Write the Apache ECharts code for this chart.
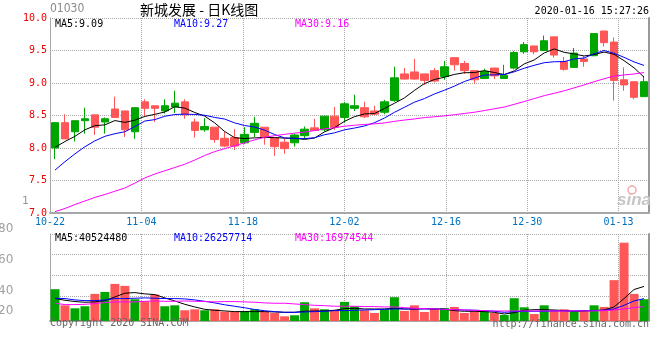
<!DOCTYPE html>
<html><head><meta charset="utf-8">
<script src="https://cdn.jsdelivr.net/npm/echarts@6/dist/echarts.min.js"></script>
<style>html,body{margin:0;padding:0;background:#fff}#c{width:660px;height:360px}</style>
</head><body><div id="c"></div>
<script>
const dates = ['2019-10-22','2019-10-23','2019-10-24','2019-10-25','2019-10-28','2019-10-29','2019-10-30','2019-10-31','2019-11-01','2019-11-04','2019-11-05','2019-11-06','2019-11-07','2019-11-08','2019-11-11','2019-11-12','2019-11-13','2019-11-14','2019-11-15','2019-11-18','2019-11-19','2019-11-20','2019-11-21','2019-11-22','2019-11-25','2019-11-26','2019-11-27','2019-11-28','2019-11-29','2019-12-02','2019-12-03','2019-12-04','2019-12-05','2019-12-06','2019-12-09','2019-12-10','2019-12-11','2019-12-12','2019-12-13','2019-12-16','2019-12-17','2019-12-18','2019-12-19','2019-12-20','2019-12-23','2019-12-24','2019-12-27','2019-12-30','2019-12-31','2020-01-02','2020-01-03','2020-01-06','2020-01-07','2020-01-08','2020-01-09','2020-01-10','2020-01-13','2020-01-14','2020-01-15','2020-01-16'];
const opens  = [8.00,8.39,8.25,8.42,8.51,8.40,8.60,8.57,8.25,8.71,8.65,8.57,8.63,8.71,8.40,8.28,8.32,8.15,8.16,8.08,8.24,8.32,8.16,8.09,8.08,8.19,8.31,8.28,8.49,8.47,8.61,8.62,8.57,8.55,8.73,9.14,9.17,9.14,9.19,9.10,9.39,9.30,9.19,9.07,9.23,9.07,9.23,9.48,9.57,9.50,9.71,9.33,9.24,9.37,9.42,9.80,9.63,9.05,9.02,8.79];
const closes = [8.39,8.14,8.42,8.45,8.32,8.45,8.47,8.28,8.62,8.61,8.61,8.65,8.69,8.51,8.27,8.33,8.13,8.03,8.03,8.21,8.38,8.16,8.02,7.99,8.20,8.29,8.27,8.49,8.32,8.68,8.65,8.48,8.52,8.71,9.08,9.06,9.06,9.04,9.03,9.25,9.28,9.19,9.05,9.18,9.11,9.12,9.47,9.59,9.48,9.65,9.43,9.21,9.46,9.33,9.76,9.62,9.04,8.97,8.78,9.02];
const lows   = [7.83,8.14,8.10,8.22,8.20,8.22,8.46,8.17,8.14,8.48,8.40,8.53,8.54,8.45,8.16,8.25,8.08,8.01,7.97,8.06,8.17,8.05,7.88,7.91,8.02,8.14,8.27,8.25,8.28,8.39,8.57,8.46,8.50,8.52,8.71,9.06,9.05,8.97,9.01,9.05,9.19,9.14,8.99,9.06,9.06,9.07,9.21,9.45,9.44,9.49,9.39,9.19,9.24,9.25,9.41,9.56,8.73,8.88,8.75,8.79];
const highs  = [8.40,8.52,8.42,8.62,8.51,8.47,8.79,8.57,8.62,8.75,8.65,8.75,8.88,8.75,8.45,8.46,8.32,8.25,8.29,8.32,8.48,8.32,8.16,8.15,8.22,8.33,8.45,8.49,8.63,8.71,8.82,8.71,8.65,8.74,9.25,9.23,9.37,9.14,9.23,9.34,9.39,9.34,9.19,9.22,9.23,9.28,9.49,9.63,9.57,9.73,9.71,9.40,9.54,9.41,9.76,9.80,9.70,9.24,9.02,9.11];
const ma5  = [8.01,8.10,8.18,8.28,8.344,8.356,8.422,8.394,8.428,8.486,8.518,8.554,8.636,8.614,8.546,8.49,8.386,8.254,8.158,8.146,8.156,8.162,8.16,8.152,8.15,8.132,8.154,8.248,8.314,8.41,8.482,8.524,8.53,8.608,8.688,8.77,8.886,8.99,9.054,9.088,9.132,9.158,9.16,9.19,9.162,9.13,9.186,9.294,9.354,9.462,9.524,9.472,9.446,9.416,9.438,9.476,9.442,9.344,9.234,9.09];
const ma10 = [7.66,7.79,7.91,8.02,8.11,8.18,8.22,8.25,8.33,8.415,8.437,8.488,8.515,8.521,8.516,8.504,8.47,8.445,8.386,8.346,8.323,8.274,8.207,8.155,8.148,8.144,8.158,8.204,8.233,8.28,8.307,8.339,8.389,8.461,8.549,8.626,8.705,8.76,8.831,8.888,8.951,9.022,9.075,9.122,9.125,9.131,9.172,9.227,9.272,9.312,9.327,9.329,9.37,9.385,9.45,9.50,9.457,9.395,9.325,9.27];
const ma30 = [7.02,7.07,7.13,7.185,7.24,7.285,7.335,7.385,7.46,7.54,7.60,7.65,7.70,7.75,7.815,7.885,7.945,7.99,8.035,8.08,8.125,8.165,8.19,8.21,8.228,8.245,8.268,8.296,8.312,8.335,8.35,8.362,8.372,8.386,8.41,8.43,8.447,8.468,8.48,8.495,8.512,8.531,8.55,8.576,8.603,8.63,8.672,8.715,8.76,8.805,8.842,8.88,8.925,8.97,9.02,9.065,9.105,9.124,9.139,9.16];
// volumes in millions of shares
const volumes = [37.3,18.4,14.9,17.3,31.8,34.1,43.5,41.2,25.5,23.1,31.0,17.3,18.4,12.6,13.7,12.6,13.7,11.0,11.0,11.4,13.7,11.4,9.4,5.5,6.7,22.0,14.9,13.7,12.6,22.4,17.3,12.6,9.4,13.7,27.9,11.8,18.4,10.6,14.5,15.3,16.5,9.4,11.4,11.8,9.4,7.1,26.7,16.1,8.2,18.4,12.6,13.7,11.4,12.6,18.4,16.5,47.9,91.8,31.8,25.5];
const volMa5  = [26.3,24.3,22.8,22.0,22.4,23.9,28.2,32.6,33.3,31.8,31.0,27.1,23.5,19.6,16.5,13.7,12.6,11.8,11.0,11.0,11.0,11.0,10.6,10.2,10.2,11.4,11.8,11.8,12.6,14.5,14.9,14.1,14.1,14.1,14.9,14.1,14.1,14.5,14.1,13.7,12.2,11.4,11.4,11.0,10.2,8.2,9.8,12.6,13.3,13.3,12.9,12.2,11.4,11.8,12.2,12.9,16.5,26.3,36.9,40.52448];
const volMa10 = [26.7,26.3,24.7,23.9,23.9,24.7,26.3,26.3,26.7,27.1,26.7,26.3,26.3,25.9,24.7,23.1,21.2,19.0,17.3,15.5,13.5,12.0,11.0,10.2,10.2,10.6,11.0,11.4,12.2,12.2,12.6,12.9,13.3,13.7,14.1,14.1,14.1,14.1,14.1,13.7,13.3,12.9,12.6,12.2,11.4,10.2,11.0,11.4,11.4,11.4,11.8,11.8,11.8,12.2,12.2,12.6,14.1,18.4,23.5,26.257714];
const volMa30 = [20.8,19.2,19.2,19.6,20.4,21.6,22.4,22.4,22.4,23.1,23.5,23.1,23.1,23.5,23.1,22.8,22.4,22.8,22.8,22.4,22.0,21.2,20.8,20.8,20.0,19.2,18.4,18.0,17.3,17.3,17.3,16.9,16.9,16.5,16.5,15.7,14.9,14.5,14.1,13.7,13.3,12.9,12.6,12.2,11.8,11.8,11.8,11.8,11.8,11.8,11.8,11.8,11.8,11.8,11.8,12.2,12.9,14.1,15.7,16.974544];
const labelIndexes = [0,9,19,29,39,47,56];
const volTickLabels = ['80','60','40','20'];
const stockCode = '01030';
const titleText = '新城发展 - 日K线图';
const stampText = '2020-01-16 15:27:26';

const mono = "'DejaVu Sans Mono','Liberation Mono',monospace";
const UP = '#00a600', DOWN = '#ff5757';
const GRID = '#a8a8a8';
const showIdx = new Set(labelIndexes);
const last = a => a[a.length - 1];
const dotted = {show: true, lineStyle: {color: GRID, type: 'dotted', width: 1}};

function txt(text, x, y, fill, font, align) {
  return {type: 'text', x: x, y: y, silent: true, z: 100,
    style: {text: text, fill: fill, font: font, align: align || 'left', verticalAlign: 'middle',
            textAlign: align || 'left', textVerticalAlign: 'middle'}};
}

const graphics = [
  txt(stockCode, 50, 9, '#8a8a8a', "12px 'DejaVu Sans Condensed','Liberation Sans Narrow',sans-serif"),
  txt(titleText, 140, 10, '#000', "14px 'Noto Sans CJK SC',sans-serif"),
  txt(stampText, 649, 11, '#000', '10px ' + mono, 'right'),
  txt('MA5:' + last(ma5).toFixed(2), 55, 24, '#000', '10px ' + mono),
  txt('MA10:' + last(ma10).toFixed(2), 174, 24, '#0000ff', '10px ' + mono),
  txt('MA30:' + last(ma30).toFixed(2), 295, 24, '#ff00ff', '10px ' + mono),
  txt('MA5:' + Math.round(last(volMa5) * 1e6), 55, 238, '#000', '10px ' + mono),
  txt('MA10:' + Math.round(last(volMa10) * 1e6), 174, 238, '#0000ff', '10px ' + mono),
  txt('MA30:' + Math.round(last(volMa30) * 1e6), 295, 238, '#ff00ff', '10px ' + mono),
  txt('Copyright 2020 SINA.COM', 50, 323, '#666', '10px ' + mono),
  txt('http://finance.sina.com.cn', 649, 324, '#666', '10px ' + mono, 'right'),
  txt('1', 22, 201, '#999', "11px 'DejaVu Sans',sans-serif"),
  txt('sina', 617, 200, '#c6c6c6', "italic bold 17px 'Liberation Sans',sans-serif"),
  {type: 'circle', shape: {cx: 632, cy: 190, r: 4}, silent: true, z: 100,
   style: {fill: 'none', stroke: '#f2a8a8', lineWidth: 1.5}}
];
const volLabelY = [229, 260, 291, 311];
volTickLabels.forEach((t, k) => graphics.push(txt(t, -2, volLabelY[k], '#a0a0a0', "12px 'DejaVu Sans',sans-serif")));

const line = (data, color, xi, yi) => ({type: 'line', xAxisIndex: xi, yAxisIndex: yi, data: data,
  symbol: 'none', showSymbol: false, smooth: false, z: 5, lineStyle: {color: color, width: 1}});

const option = {
  animation: false,
  backgroundColor: '#fff',
  grid: [
    {left: 50, right: 11, top: 18, height: 195},
    {left: 50, right: 11, top: 234, height: 87},
    {left: 50, right: 11, top: 234, height: 62}
  ],
  xAxis: [
    {type: 'category', gridIndex: 0, data: dates, boundaryGap: true, show: false},
    {type: 'category', gridIndex: 0, data: dates, boundaryGap: false, position: 'bottom',
     axisLine: {lineStyle: {color: '#a8a8a8', width: 2}}, axisTick: {show: false},
     axisLabel: {interval: (i) => showIdx.has(i), formatter: v => v.slice(5), color: '#0070c0',
                 fontFamily: mono, fontSize: 10, margin: 4, hideOverlap: false},
     splitLine: {show: true, interval: (i) => showIdx.has(i), lineStyle: {color: GRID, type: 'dotted', width: 1}}},
    {type: 'category', gridIndex: 1, data: dates, boundaryGap: true, show: false},
    {type: 'category', gridIndex: 1, data: dates, boundaryGap: false, position: 'top',
     axisLine: {lineStyle: {color: '#a8a8a8', width: 2}}, axisTick: {show: false}, axisLabel: {show: false},
     splitLine: {show: true, interval: (i) => showIdx.has(i), lineStyle: {color: GRID, type: 'dotted', width: 1}}},
    {type: 'category', gridIndex: 2, data: dates, show: false}
  ],
  yAxis: [
    {type: 'value', gridIndex: 0, min: 7, max: 10, interval: 0.5,
     axisLine: {show: true, lineStyle: {color: '#a8a8a8'}}, axisTick: {show: false},
     axisLabel: {color: '#ee0000', fontFamily: mono, fontSize: 10, margin: 3, formatter: v => v.toFixed(1)},
     splitLine: dotted},
    {type: 'value', gridIndex: 0, position: 'right', min: 7, max: 10, interval: 0.5,
     axisLine: {show: true, lineStyle: {color: '#999', width: 2}}, axisTick: {show: false},
     axisLabel: {show: false}, splitLine: {show: false}},
    {type: 'value', gridIndex: 1, min: 0, max: 102,
     axisLine: {show: true, lineStyle: {color: '#a8a8a8'}}, axisTick: {show: false},
     axisLabel: {show: false}, splitLine: {show: false}},
    {type: 'value', gridIndex: 1, position: 'right', min: 0, max: 102,
     axisLine: {show: true, lineStyle: {color: '#999', width: 2}}, axisTick: {show: false},
     axisLabel: {show: false}, splitLine: {show: false}},
    {type: 'value', gridIndex: 2, min: 0, max: 3, interval: 1,
     axisLine: {show: false}, axisTick: {show: false}, axisLabel: {show: false}, splitLine: dotted}
  ],
  series: [
    {type: 'candlestick', xAxisIndex: 0, yAxisIndex: 0, barWidth: 8, z: 3,
     data: dates.map((d, i) => [opens[i], closes[i], lows[i], highs[i]]),
     itemStyle: {color: UP, color0: DOWN, borderColor: UP, borderColor0: DOWN, borderWidth: 1}},
    line(ma5, '#000000', 0, 0),
    line(ma10, '#0000ff', 0, 0),
    line(ma30, '#ff00ff', 0, 0),
    {type: 'bar', xAxisIndex: 2, yAxisIndex: 2, barWidth: 9, z: 3,
     data: volumes.map((v, i) => ({value: v, itemStyle: {color: closes[i] > opens[i] ? UP : DOWN}}))},
    line(volMa5, '#000000', 2, 2),
    line(volMa10, '#0000ff', 2, 2),
    line(volMa30, '#ff00ff', 2, 2),
    {type: 'line', xAxisIndex: 4, yAxisIndex: 4, data: [], symbol: 'none'}
  ],
  graphic: graphics
};
const chart = echarts.init(document.getElementById('c'));
chart.setOption(option);
</script>
</body></html>
